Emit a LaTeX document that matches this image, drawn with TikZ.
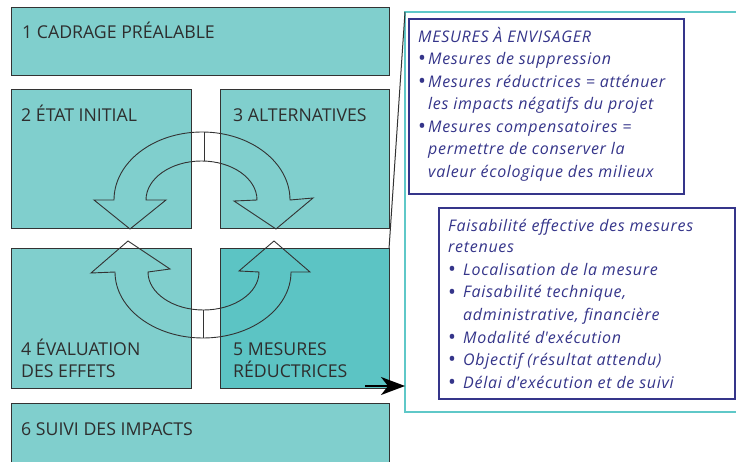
\documentclass[tikz,border=0pt]{standalone}
\usepackage{fontspec}
\setmainfont{Open Sans}
\newfontfamily\lblfamily{Open Sans}
\newfontfamily\itmfamily{Open Sans}[LetterSpace=4.5]
\usetikzlibrary{arrows.meta,calc}
\definecolor{tealA}{HTML}{80CFCD}
\definecolor{tealB}{HTML}{5CC4C4}
\definecolor{cyanline}{HTML}{5FC8C8}
\definecolor{navy}{HTML}{35358A}
\definecolor{boxline}{HTML}{333333}
\definecolor{txtgray}{HTML}{2E2E2E}
\newcommand{\lblfont}{\lblfamily\fontsize{17.7}{20}\selectfont}
\newcommand{\itmfont}{\itmfamily\itshape\fontsize{16}{18}\selectfont}
\newcommand{\bulfont}{\lblfamily\fontsize{21}{18}\selectfont}
\tikzset{
  stage/.style={draw=boxline, fill=tealA, line width=1pt, inner sep=0pt, outer sep=0pt, anchor=north west},
  lbl/.style={anchor=base west, font=\lblfont, text=txtgray, inner sep=0pt},
  itm/.style={anchor=base west, font=\itmfont, text=navy, inner sep=0pt},
  bul/.style={anchor=base west, font=\bulfont, text=navy, inner sep=0pt, yshift=-1pt},
  navybox/.style={draw=navy, line width=1.2pt, fill=white, inner sep=0pt, outer sep=0pt, anchor=north west},
  ring/.style={draw=boxline, line width=0.9pt, line join=miter},
}
\begin{document}
\begin{tikzpicture}[x=1pt,y=-1pt]
\useasboundingbox (0,0) rectangle (736,462);
\clip (0,0) rectangle (736,462);
% stage boxes
\node[stage, minimum width=378pt, minimum height=68pt] (b1) at (11,8) {};
\node[stage, minimum width=180pt, minimum height=139pt] (b2) at (11,90) {};
\node[stage, minimum width=169pt, minimum height=139pt] (b3) at (220,90) {};
\node[stage, minimum width=180pt, minimum height=139pt] (b4) at (11,249) {};
\node[stage, fill=tealB, minimum width=169pt, minimum height=139pt] (b5) at (220,249) {};
\node[stage, minimum width=378pt, minimum height=80pt] (b6) at (11,403) {};
% labels
\node[lbl] (t1) at (22,39) {1 CADRAGE PRÉALABLE};
\node[lbl] (t2) at (21,122) {2 ÉTAT INITIAL};
\node[lbl] (t3) at (233,122) {3 ALTERNATIVES};
\node[lbl] (t4a) at (21,355) {4 ÉVALUATION};
\node[lbl] (t4b) at (21,377) {DES EFFETS};
\node[lbl] (t5a) at (233,355) {5 MESURES};
\node[lbl] (t5b) at (233,377) {RÉDUCTRICES};
\node[lbl] (t6) at (21,435) {6 SUIVI DES IMPACTS};
% ring arrows (top)
\draw[ring] (114,200) -- (94,200) -- (130,229) -- (166,200) -- (146,200)
  arc[start angle=180, end angle=0, x radius=55.5pt, y radius=39pt]
  -- (234,201) -- (276,229) -- (313,198) -- (290,200)
  arc[start angle=0, end angle=180, x radius=88pt, y radius=68pt] -- cycle;
\draw[ring] (204,132) -- (204,161);
% ring arrows (bottom)
\draw[ring] (115,272) -- (91,273) -- (128,241) -- (170,269) -- (148,272)
  arc[start angle=180, end angle=360, x radius=55.5pt, y radius=38pt]
  -- (239,271) -- (274,241) -- (310,272) -- (291,272)
  arc[start angle=0, end angle=-180, x radius=88pt, y radius=66pt] -- cycle;
\draw[ring] (203,310) -- (203,338);
% right panel
\node[draw=cyanline, line width=2pt, inner sep=0pt, outer sep=0pt, anchor=north west,
  minimum width=345pt, minimum height=400pt] (panel) at (405,12) {};
\node[navybox, minimum width=275pt, minimum height=175pt] (mA) at (409,19) {};
\node[navybox, minimum width=296pt, minimum height=191pt] (mB) at (439,208) {};
% connectors
\draw[boxline, line width=1pt] (panel.north west) -- (b5.north east);
\coordinate (arrs) at (365,386);
\draw[-{Stealth[length=24pt,width=18pt,inset=7pt]}, line width=1.6pt, black] (arrs) -- (arrs -| panel.west);
% texts box A
\node[itm] (a0) at (418,43) {MESURES À ENVISAGER};
\node[bul] (a1b) at (418,65) {\textbullet};
\node[itm] (a1) at (428,65) {Mesures de suppression};
\node[bul] (a2b) at (418,88) {\textbullet};
\node[itm] (a2) at (428,88) {Mesures réductrices = atténuer};
\node[itm] (a3) at (428,110) {les impacts négatifs du projet};
\node[bul] (a4b) at (418,133) {\textbullet};
\node[itm] (a4) at (428,133) {Mesures compensatoires =};
\node[itm] (a5) at (428,155) {permettre de conserver la};
\node[itm] (a6) at (428,178) {valeur écologique des milieux};
% texts box B
\node[itm] (c0) at (448,232) {Faisabilité effective des mesures};
\node[itm] (c1) at (448,253) {retenues};
\node[bul] (c2b) at (448,276) {\textbullet};
\node[itm] (c2) at (463,276) {Localisation de la mesure};
\node[bul] (c3b) at (448,298) {\textbullet};
\node[itm] (c3) at (463,298) {Faisabilité technique,};
\node[itm] (c4) at (463,320) {administrative, financière};
\node[bul] (c5b) at (448,343) {\textbullet};
\node[itm] (c5) at (463,343) {Modalité d\textquotesingle exécution};
\node[bul] (c6b) at (448,365) {\textbullet};
\node[itm] (c6) at (463,365) {Objectif (résultat attendu)};
\node[bul] (c7b) at (448,388) {\textbullet};
\node[itm] (c7) at (463,388) {Délai d\textquotesingle exécution et de suivi};
\end{tikzpicture}
\end{document}
